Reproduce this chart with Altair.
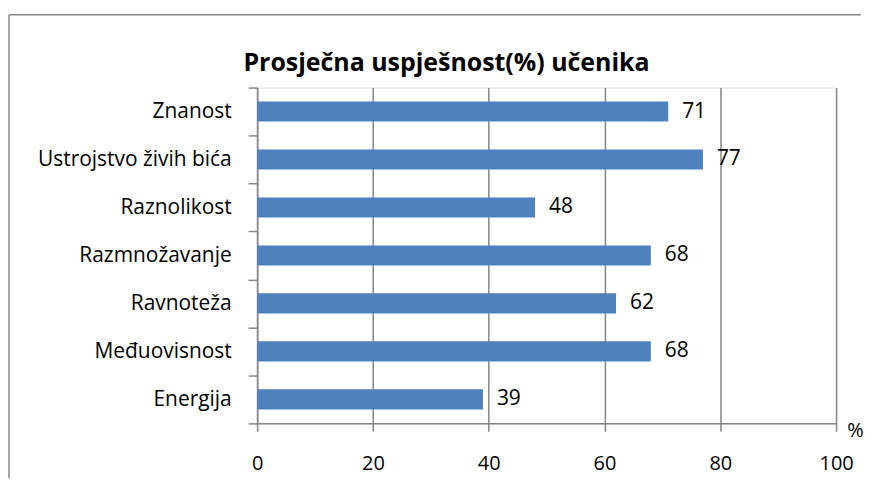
import altair as alt
import pandas as pd

categories = ["Znanost", "Ustrojstvo živih bića", "Raznolikost", "Razmnožavanje",
              "Ravnoteža", "Međuovisnost", "Energija"]
values = [71, 77, 48, 68, 62, 68, 39]
x_ticks = [0, 20, 40, 60, 80, 100]
title_text = "Prosječna uspješnost(%) učenika"

df = pd.DataFrame({"cat": categories, "val": values})

W, H = 581, 337
FONT = "Open Sans"
GRID = "#868686"
BAR = "#4F81BD"

x_enc = alt.X(
    "val:Q",
    scale=alt.Scale(domain=[0, 100], nice=False),
    axis=alt.Axis(
        values=x_ticks, title="%", titleAngle=0, titleAlign="center",
        titleBaseline="middle", titleX=600, titleY=7,
        titleFont=FONT, titleFontSize=20, titleFontWeight="normal", titleColor="black",
        grid=True, gridColor=GRID, gridWidth=1.5, labelFlush=False,
        domainColor=GRID, domainWidth=1.5, tickColor=GRID, tickWidth=1.5, tickSize=8,
        labelFont=FONT, labelFontSize=20, labelColor="black", labelPadding=22,
    ),
)
y_enc = alt.Y(
    "cat:N", sort=categories,
    scale=alt.Scale(paddingInner=0, paddingOuter=0),
    axis=alt.Axis(
        title=None, tickBand="extent", tickSize=9, tickColor=GRID, tickWidth=1.5,
        domainColor=GRID, domainWidth=1.5, grid=False, labelLimit=400,
        labelFont=FONT, labelFontSize=21, labelColor="black", labelPadding=17,
    ),
)

base = alt.Chart(df)
bars = base.mark_bar(color=BAR, height=alt.RelativeBandSize(0.42)).encode(x=x_enc, y=y_enc)
labels = base.mark_text(align="left", baseline="middle", dx=14, font=FONT,
                        fontSize=21, color="black").encode(
    x="val:Q", y=alt.Y("cat:N", sort=categories), text="val:Q")

one = pd.DataFrame({"t": [title_text]})
title = alt.Chart(one).mark_text(
    font=FONT, fontSize=25, fontWeight="bold", color="black",
    align="center", baseline="alphabetic").encode(
    x=alt.value(190), y=alt.value(-17), text="t:N")
left_border = alt.Chart(one).mark_rule(color=GRID, strokeWidth=1.5).encode(
    x=alt.value(-249), y=alt.value(-73), y2=alt.value(392))
top_border = alt.Chart(one).mark_rule(color=GRID, strokeWidth=1.5).encode(
    x=alt.value(-249), x2=alt.value(606), y=alt.value(-73))

chart = alt.layer(bars, labels, title, left_border, top_border).properties(
    width=W, height=H,
    padding={"left": 0, "top": 5, "right": 0, "bottom": 0},
).configure_view(stroke=None).configure(background="white")

chart.save("out.html", embed_options={"renderer": "svg", "actions": False})
